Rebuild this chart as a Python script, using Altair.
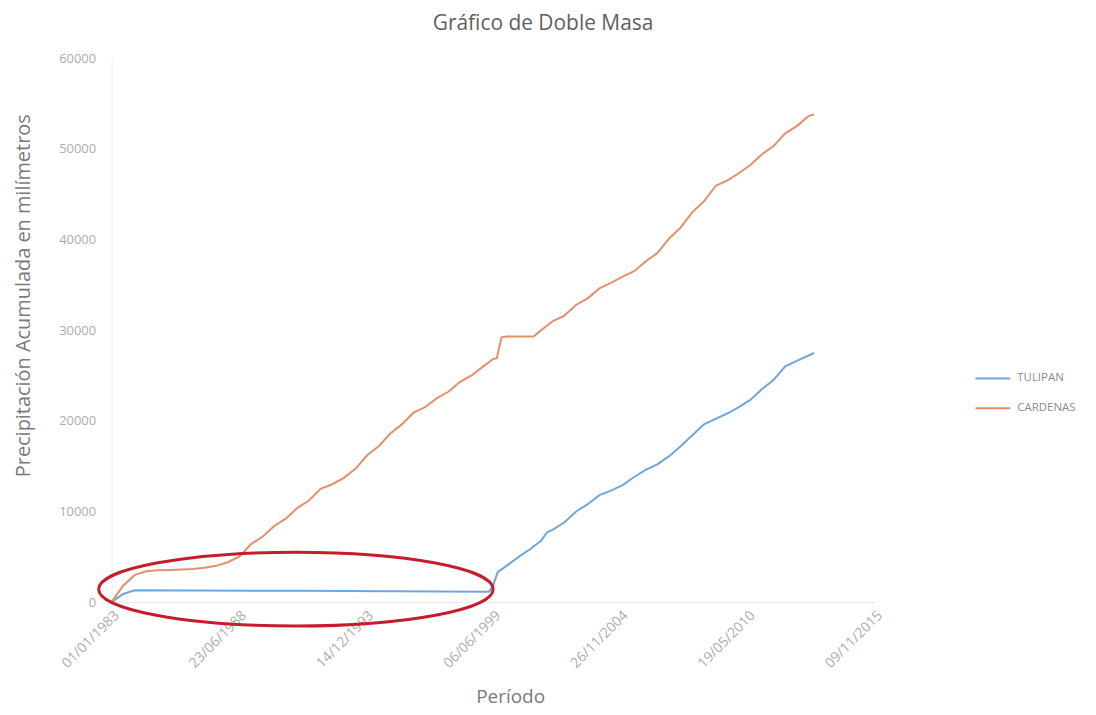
import altair as alt
import pandas as pd

# ---- data ----
series_names = ["TULIPAN", "CARDENAS"]
series_colors = ["#6fa7dc", "#e58f6a"]

cardenas_dates = [
    "1983/01/01", "1983/07/01", "1984/01/01", "1984/07/01", "1985/01/01", "1985/07/01",
    "1986/01/01", "1986/07/01", "1987/01/01", "1987/07/01", "1988/01/01", "1988/07/01",
    "1989/01/01", "1989/07/01", "1990/01/01", "1990/07/01", "1991/01/01", "1991/07/01",
    "1992/01/01", "1992/07/01", "1993/01/01", "1993/07/01", "1994/01/01", "1994/07/01",
    "1995/01/01", "1995/07/01", "1996/01/01", "1996/07/01", "1997/01/01", "1997/07/01",
    "1998/01/01", "1998/07/01", "1999/01/01", "1999/06/01", "1999/08/01", "1999/10/15",
    "2000/01/01", "2000/07/01", "2001/01/01", "2001/03/01", "2001/07/01", "2002/01/01",
    "2002/07/01", "2003/01/01", "2003/07/01", "2004/01/01", "2004/07/01", "2005/01/01",
    "2005/07/01", "2006/01/01", "2006/07/01", "2007/01/01", "2007/07/01", "2008/01/01",
    "2008/07/01", "2009/01/01", "2009/07/01", "2010/01/01", "2010/07/01", "2011/01/01",
    "2011/07/01", "2012/01/01", "2012/07/01", "2013/01/01", "2013/04/01",
]
cardenas_values = [
    0, 1800, 3000, 3400, 3500, 3550,
    3600, 3650, 3800, 4000, 4400, 5000,
    6400, 7200, 8400, 9200, 10400, 11200,
    12500, 13000, 13700, 14700, 16200, 17200,
    18600, 19600, 20900, 21500, 22500, 23200,
    24300, 25000, 26000, 26800, 26900, 29200,
    29300, 29300, 29300, 29300, 30000, 31000,
    31600, 32800, 33500, 34600, 35200, 35900,
    36500, 37600, 38500, 40100, 41300, 43000,
    44200, 45900, 46500, 47300, 48200, 49400,
    50300, 51700, 52500, 53600, 53800,
]

tulipan_dates = [
    "1983/01/01", "1983/07/01", "1984/01/01", "1991/01/01", "1999/04/01", "1999/06/01",
    "1999/08/15", "2000/01/01", "2000/08/01", "2001/01/01", "2001/07/01", "2001/10/01",
    "2002/01/01", "2002/07/01", "2003/01/01", "2003/07/01", "2004/01/01", "2004/07/01",
    "2005/01/01", "2005/07/01", "2006/01/01", "2006/07/01", "2007/01/01", "2007/07/01",
    "2008/01/01", "2008/07/01", "2009/01/01", "2009/07/01", "2010/01/01", "2010/07/01",
    "2011/01/01", "2011/07/01", "2012/01/01", "2012/07/01", "2013/01/01", "2013/04/01",
]
tulipan_values = [
    0, 900, 1300, 1250, 1150, 1760,
    3300, 4000, 5100, 5800, 6800, 7700,
    8000, 8800, 10000, 10800, 11800, 12300,
    12900, 13800, 14600, 15200, 16100, 17200,
    18400, 19600, 20200, 20800, 21500, 22300,
    23500, 24500, 26000, 26600, 27200, 27500,
]

x_tick_dates = [(1983, 1, 1), (1988, 6, 23), (1993, 12, 14), (1999, 6, 6),
                (2004, 11, 26), (2010, 5, 19), (2015, 11, 9)]
y_ticks = [0, 10000, 20000, 30000, 40000, 50000, 60000]

# annotation: red ellipse around the period with missing data
ellipse_date = ["1990/12/08"]
ellipse_value = [1430]

# ---- build tables ----
df = pd.concat([
    pd.DataFrame({"fecha": tulipan_dates, "valor": tulipan_values, "serie": "TULIPAN", "orden": range(len(tulipan_dates))}),
    pd.DataFrame({"fecha": cardenas_dates, "valor": cardenas_values, "serie": "CARDENAS", "orden": range(len(cardenas_dates))}),
])
ell = pd.DataFrame({"fecha": ellipse_date, "valor": ellipse_value})

FONT = "Open Sans"
x_vals = [alt.DateTime(year=y, month=m, date=d) for (y, m, d) in x_tick_dates]

x_enc = alt.X(
    "fecha:T",
    scale=alt.Scale(domain=[alt.DateTime(year=1983, month=1, date=1),
                            alt.DateTime(year=2015, month=11, date=9)]),
    axis=alt.Axis(
        values=x_vals, format="%d/%m/%Y", labelAngle=-45, labelFontSize=14,
        labelColor="#acacac", labelFont=FONT, labelPadding=6, ticks=False,
        domain=True, domainColor="#e8e8e8", grid=False,
        title="Período", titleFont=FONT, titleFontSize=19, titleFontWeight="normal",
        titleColor="#7a7a7a", titleX=400, titleY=95, titleBaseline="middle",
        titleAlign="center", labelOverlap=False,
    ),
)
y_enc = alt.Y(
    "valor:Q",
    scale=alt.Scale(domain=[0, 60000]),
    axis=alt.Axis(
        values=y_ticks, format="d", labelFontSize=13, labelColor="#acacac",
        labelFont=FONT, labelPadding=16, ticks=False, domain=True,
        domainColor="#eeeeee", grid=False,
        title="Precipitación Acumulada en milímetros", titleFont=FONT,
        titleFontSize=20, titleFontWeight="normal", titleColor="#7a7a7a",
        titleX=-88, titleY=238, titleAlign="center", titleBaseline="middle",
    ),
)

lines = alt.Chart(df).mark_line(strokeWidth=2).encode(
    x=x_enc,
    y=y_enc,
    order="orden:Q",
    color=alt.Color(
        "serie:N",
        scale=alt.Scale(domain=series_names, range=series_colors),
        legend=alt.Legend(
            title=None, orient="none", legendX=866, legendY=303,
            symbolType="stroke", symbolSize=1225, symbolStrokeWidth=2,
            labelFontSize=11.5, labelColor="#8c8c8c", labelFont=FONT,
            rowPadding=6, labelOffset=6,
        ),
    ),
)

ellipse = alt.Chart(ell).mark_point(
    shape="M-1,0A1,0.187,0,1,0,1,0A1,0.187,0,1,0,-1,0Z",
    size=156816, filled=False, stroke="#c41e2c", strokeWidth=3, opacity=1,
).encode(x="fecha:T", y="valor:Q")

chart = alt.layer(lines, ellipse).properties(
    width=766, height=546,
    title=alt.TitleParams(
        "Gráfico de Doble Masa", font=FONT, fontSize=21, fontWeight="normal",
        color="#5f5f5f", anchor="middle", frame="group", dx=50, offset=18,
    ),
    autosize=alt.AutoSizeParams(type="none"),
    padding={"left": 104, "top": 49, "right": 214, "bottom": 108},
).configure_view(stroke=None)

chart.save("out.html", embed_options={"renderer": "svg", "actions": False})
